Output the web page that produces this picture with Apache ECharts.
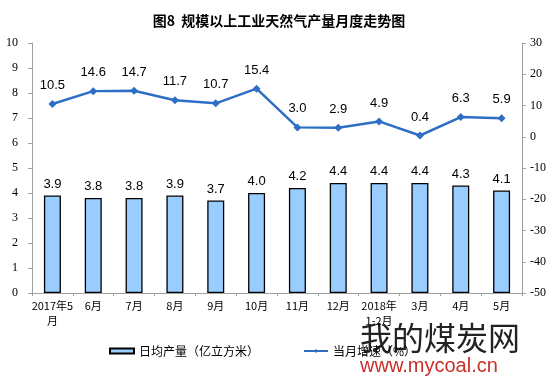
<!DOCTYPE html>
<html><head><meta charset="utf-8">
<script src="https://cdn.jsdelivr.net/npm/echarts@6/dist/echarts.min.js"></script>
<style>html,body{margin:0;padding:0;background:#fff}#c{width:558px;height:384px}</style>
</head><body><div id="c"></div>
<script>
var categories = ['2017年5\n月','6月','7月','8月','9月','10月','11月','12月','2018年\n1-2月','3月','4月','5月'];
var dailyOutput = [3.9,3.8,3.8,3.9,3.7,4.0,4.2,4.4,4.4,4.4,4.3,4.1];
var growthRate = [10.5,14.6,14.7,11.7,10.7,15.4,3.0,2.9,4.9,0.4,6.3,5.9];
var leftTicks = [0,10,1];
var rightTicks = [-50,30,10];

var chart = echarts.init(document.getElementById('c'), null, {renderer:'canvas'});
chart.setOption({
  animation:false,
  backgroundColor:'#fff',
  title:{text:'图8  规模以上工业天然气产量月度走势图',left:'center',top:9,
    textStyle:{fontFamily:'Noto Sans CJK SC',fontSize:14,fontWeight:'bold',color:'#000'}},
  grid:{left:32,right:36,top:43,bottom:91},
  legend:{bottom:22,left:104,itemGap:44,itemWidth:24,itemHeight:5,
    textStyle:{fontFamily:'Noto Sans CJK SC',fontSize:12,color:'#000'},
    data:[{name:'日均产量（亿立方米）',icon:'rect'},{name:'当月增速（%）'}]},
  xAxis:{type:'category',data:categories,
    axisLine:{lineStyle:{color:'#a0a0a0'}},
    axisTick:{show:true,length:3,lineStyle:{color:'#a0a0a0'}},
    axisLabel:{interval:0,fontFamily:'Noto Sans CJK SC',fontSize:11,color:'#000',margin:5,lineHeight:15}},
  yAxis:[
    {type:'value',min:leftTicks[0],max:leftTicks[1],interval:leftTicks[2],
     axisLine:{show:true,lineStyle:{color:'#a0a0a0'}},
     axisTick:{show:true,length:4,lineStyle:{color:'#a0a0a0'}},
     splitLine:{show:false},
     axisLabel:{fontFamily:'Liberation Serif',fontSize:12,color:'#000',margin:14}},
    {type:'value',min:rightTicks[0],max:rightTicks[1],interval:rightTicks[2],
     axisLine:{show:true,lineStyle:{color:'#a0a0a0'}},
     axisTick:{show:true,length:4,lineStyle:{color:'#a0a0a0'}},
     splitLine:{show:false},
     axisLabel:{fontFamily:'Liberation Serif',fontSize:12,color:'#000',margin:8}}
  ],
  series:[
    {name:'日均产量（亿立方米）',type:'bar',data:dailyOutput,barWidth:17,
     itemStyle:{color:'#99CCFF',borderColor:'#000',borderWidth:1.3},
     label:{show:true,position:'top',distance:5,formatter:function(p){return p.value.toFixed(1);},
       fontFamily:'Liberation Sans',fontSize:13,color:'#000'}},
    {name:'当月增速（%）',type:'line',yAxisIndex:1,data:growthRate,
     symbol:'diamond',symbolSize:8,
     lineStyle:{color:'#2E6FC5',width:2.5},itemStyle:{color:'#2E6FC5'},
     label:{show:true,position:'top',distance:8,formatter:function(p){return p.value.toFixed(1);},
       fontFamily:'Liberation Sans',fontSize:13,color:'#000'}}
  ],
  graphic:[
    {type:'text',left:360,top:322,style:{text:'我的煤炭网',fontFamily:'Noto Sans CJK SC',fontSize:32,fill:'#222'}},
    {type:'text',left:360,top:356,style:{text:'www.mycoal.cn',fontFamily:'Liberation Sans',fontSize:20,fill:'#c8302a'}}
  ]
});
</script></body></html>
